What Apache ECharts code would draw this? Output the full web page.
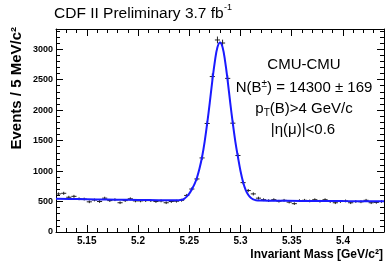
<!DOCTYPE html>
<html><head><meta charset="utf-8">
<script src="https://cdn.jsdelivr.net/npm/echarts@6/dist/echarts.min.js"></script>
<style>html,body{margin:0;padding:0;background:#fff}#c{width:391px;height:267px}</style>
</head><body><div id="c"></div>
<script>
// Bin centres (5 MeV bins) and event counts
const massBins = [5.1225,5.1275,5.1325,5.1375,5.1425,5.1475,5.1525,5.1575,5.1625,5.1675,5.1725,5.1775,5.1825,5.1875,5.1925,5.1975,
  5.2025,5.2075,5.2125,5.2175,5.2225,5.2275,5.2325,5.2375,5.2425,5.2475,5.2525,5.2575,5.2625,5.2675,5.2725,5.2775,
  5.2825,5.2875,5.2925,5.2975,5.3025,5.3075,5.3125,5.3175,5.3225,5.3275,5.3325,5.3375,5.3425,5.3475,5.3525,5.3575,
  5.3625,5.3675,5.3725,5.3775,5.3825,5.3875,5.3925,5.3975,5.4025,5.4075,5.4125,5.4175,5.4225,5.4275,5.4325,5.4375];
const events = [625,635,570,585,545,540,495,525,500,555,515,530,480,515,545,510,
  510,515,515,500,510,480,500,505,520,600,705,870,1215,1780,2550,3150,
  3100,2520,1785,1255,810,680,625,555,530,515,530,505,520,490,465,515,
  520,510,530,505,530,500,480,500,510,480,500,495,520,480,485,500];
// Fit curve
const fitMass = [5.12,5.14,5.16,5.18,5.20,5.22,5.235,5.24,5.2425,5.245,5.2475,5.25,5.2525,5.255,5.2575,5.26,5.2625,5.265,5.2675,5.27,5.2725,5.275,5.2775,5.28,
  5.2825,5.285,5.2875,5.29,5.2925,5.295,5.2975,5.30,5.3025,5.305,5.3075,5.31,5.3125,5.315,5.32,5.33,5.36,5.40,5.44];
const fitValue = [545,540,535,530,526,522,521,522,528,545,580,630,700,780,890,1040,1230,1480,1780,2120,2480,2800,3030,3110,
  3030,2800,2480,2120,1780,1480,1230,1000,820,690,610,560,535,522,515,512,510,507,505];
// Axis settings
const xRange = [5.12, 5.44];
const yRange = [0, 3330];
const yStep = 500;
const xMinorStep = 0.01;

const FONT = '"Liberation Sans", Arial, Helvetica, sans-serif';
const pts = massBins.map((m, i) => [m, events[i], Math.sqrt(events[i])]);
const fit = fitMass.map((m, i) => [m, fitValue[i]]);

const chart = echarts.init(document.getElementById('c'), null, {renderer: 'canvas'});
const lineStyle = {color: '#000', width: 1};
chart.setOption({
  animation: false,
  grid: {left: 56, right: 7, top: 29, bottom: 35, show: false},
  xAxis: [
    { // major ticks + labels (bottom)
      type: 'value', min: xRange[0], max: xRange[1], position: 'bottom',
      axisLine: {show: true, onZero: false, lineStyle},
      axisTick: {show: true, inside: true, length: 7, lineStyle},
      axisLabel: {show: true, showMinLabel: false, showMaxLabel: false, fontFamily: FONT, fontWeight: 'bold', fontSize: 10, color: '#000', margin: 4,
        formatter: v => String(+v.toFixed(2))},
      splitLine: {show: false}
    },
    { // minor ticks (bottom)
      type: 'value', min: xRange[0], max: xRange[1], interval: xMinorStep, position: 'bottom',
      axisLine: {show: false, onZero: false},
      axisTick: {show: true, inside: true, length: 4, lineStyle},
      axisLabel: {show: false}, splitLine: {show: false}
    },
    { // top major
      type: 'value', min: xRange[0], max: xRange[1], position: 'top',
      axisLine: {show: true, onZero: false, lineStyle},
      axisTick: {show: true, inside: true, length: 7, lineStyle},
      axisLabel: {show: false}, splitLine: {show: false}
    },
    { // top minor
      type: 'value', min: xRange[0], max: xRange[1], interval: xMinorStep, position: 'top',
      axisLine: {show: false, onZero: false},
      axisTick: {show: true, inside: true, length: 4, lineStyle},
      axisLabel: {show: false}, splitLine: {show: false}
    }
  ],
  yAxis: [
    {
      type: 'value', min: yRange[0], max: yRange[1], interval: yStep, position: 'left',
      axisLine: {show: true, onZero: false, lineStyle},
      axisTick: {show: true, inside: true, length: 7, lineStyle},
      minorTick: {show: true, splitNumber: 5, length: 4, lineStyle},
      axisLabel: {show: true, showMaxLabel: false, fontFamily: FONT, fontWeight: 'bold', fontSize: 9, color: '#000', margin: 3,
        formatter: v => String(v)},
      splitLine: {show: false}, minorSplitLine: {show: false}
    },
    {
      type: 'value', min: yRange[0], max: yRange[1], interval: yStep, position: 'right',
      axisLine: {show: true, onZero: false, lineStyle},
      axisTick: {show: true, inside: true, length: 7, lineStyle},
      minorTick: {show: true, splitNumber: 5, length: 4, lineStyle},
      axisLabel: {show: false},
      splitLine: {show: false}, minorSplitLine: {show: false}
    }
  ],
  series: [
    {
      type: 'custom', xAxisIndex: 0, yAxisIndex: 0, data: pts, z: 2,
      renderItem: function (params, api) {
        const x = api.value(0), y = api.value(1), e = api.value(2);
        const l = api.coord([x - 0.0025, y]), r = api.coord([x + 0.0025, y]);
        const t = api.coord([x, y + e]), b = api.coord([x, y - e]);
        const st = {stroke: '#222', lineWidth: 1};
        return {type: 'group', children: [
          {type: 'line', shape: {x1: l[0], y1: l[1], x2: r[0], y2: r[1]}, style: st},
          {type: 'line', shape: {x1: t[0], y1: t[1], x2: b[0], y2: b[1]}, style: st}
        ]};
      }
    },
    {
      type: 'line', xAxisIndex: 0, yAxisIndex: 0, data: fit, smooth: 0.4, showSymbol: false, z: 3,
      lineStyle: {color: '#1a1aff', width: 2}
    }
  ],
  graphic: [
    {type: 'text', left: 54, top: 6, style: {text: 'CDF II Preliminary 3.7 fb', font: '15.5px ' + FONT, fill: '#000'}},
    {type: 'text', left: 224, top: 3, style: {text: '-1', font: '9px ' + FONT, fill: '#000'}},
    {type: 'text', x: 17, y: 27, rotation: Math.PI / 2,
      style: {text: 'Events / 5 MeV/c²', font: 'bold 15px ' + FONT, fill: '#000', align: 'right', verticalAlign: 'middle'}},
    {type: 'text', x: 383, y: 255,
      style: {text: 'Invariant Mass [GeV/c²]', font: 'bold 12px ' + FONT, fill: '#000', align: 'right', verticalAlign: 'middle'}},
    {type: 'text', x: 304, y: 65,
      style: {text: 'CMU-CMU', font: '15px ' + FONT, fill: '#000', align: 'center', verticalAlign: 'middle'}},
    {type: 'text', x: 304, y: 88,
      style: {text: '{a|N(B}{s|±}{a|) = 14300 ± 169}', align: 'center', verticalAlign: 'middle',
        rich: {a: {fontFamily: FONT, fontSize: 15, color: '#000', lineHeight: 18},
               s: {fontFamily: FONT, fontSize: 10, color: '#000', verticalAlign: 'top', lineHeight: 18}}}},
    {type: 'text', x: 304, y: 109,
      style: {text: '{a|p}{s|T}{a|(B)>4 GeV/c}', align: 'center', verticalAlign: 'middle',
        rich: {a: {fontFamily: FONT, fontSize: 15, color: '#000', lineHeight: 18},
               s: {fontFamily: FONT, fontSize: 10, color: '#000', verticalAlign: 'bottom', lineHeight: 18}}}},
    {type: 'text', x: 303, y: 130,
      style: {text: '|η(μ)|<0.6', font: '15px ' + FONT, fill: '#000', align: 'center', verticalAlign: 'middle'}}
  ]
});
</script></body></html>
